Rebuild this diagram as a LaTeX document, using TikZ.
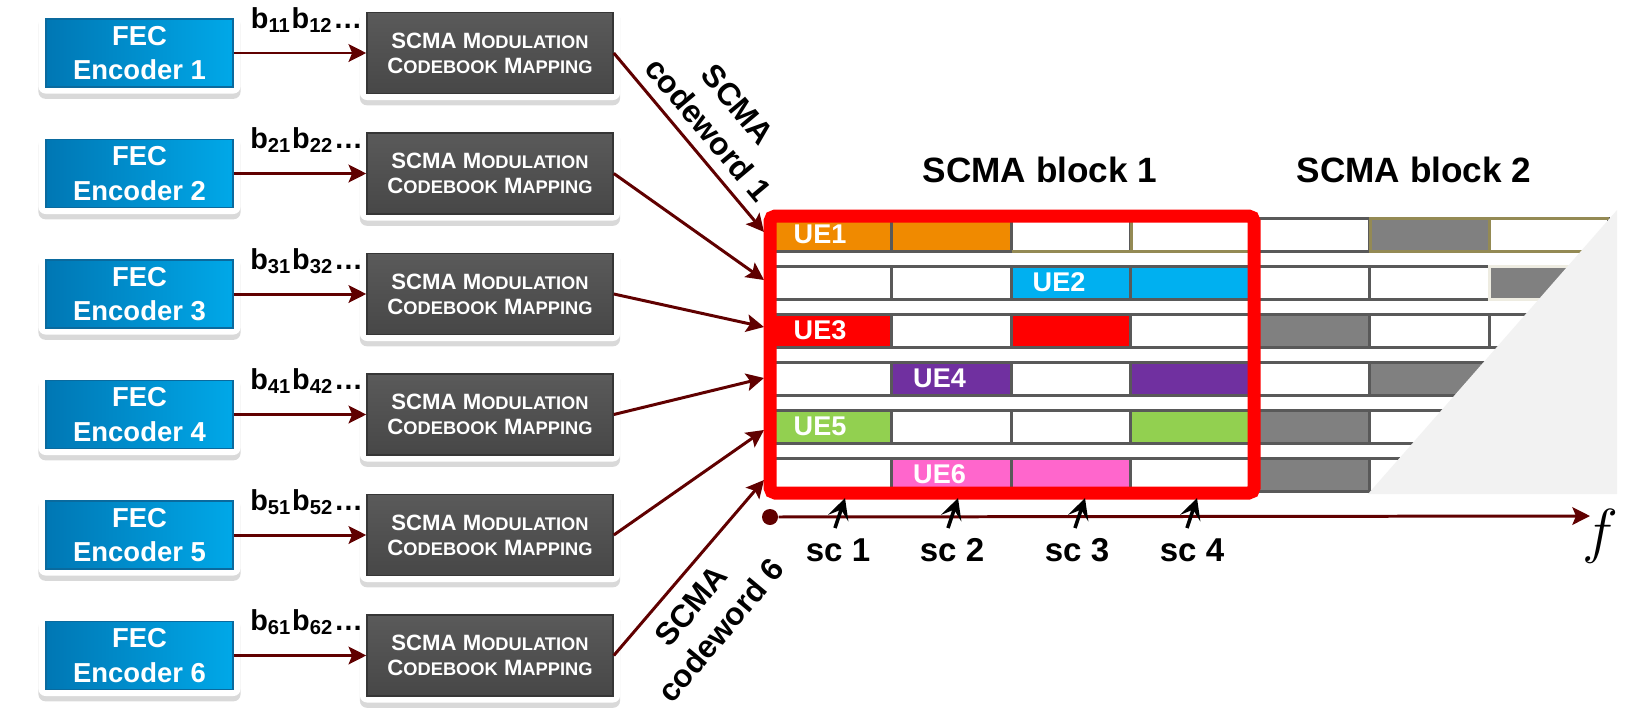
\documentclass[tikz,border=0pt]{standalone}
\usepackage{fontspec}
\setmainfont{Liberation Sans}
\usetikzlibrary{arrows.meta}
\usetikzlibrary{calc}
\usetikzlibrary{positioning}
\usetikzlibrary{shadows}

\definecolor{feclight}{HTML}{00A8E8}
\definecolor{fecdark}{HTML}{0077B4}
\definecolor{fecedge}{HTML}{0A6A9E}
\definecolor{maptop}{HTML}{5A5A5A}
\definecolor{mapbottom}{HTML}{474747}
\definecolor{mapedge}{HTML}{363636}
\definecolor{linkred}{HTML}{600000}
\definecolor{cellline}{HTML}{595959}
\definecolor{blkgray}{HTML}{808080}
\definecolor{olive}{HTML}{948A54}
\definecolor{paleedge}{HTML}{EEECE1}
\definecolor{fade}{HTML}{F2F2F2}
\definecolor{ueorange}{HTML}{F08A00}
\definecolor{uecyan}{HTML}{00B0F0}
\definecolor{uered}{HTML}{FF0000}
\definecolor{uepurple}{HTML}{7030A0}
\definecolor{uegreen}{HTML}{92D050}
\definecolor{uepink}{HTML}{FF66CC}

\newcommand{\fsc}[1]{{\fontsize{5.2}{7.1}\selectfont #1}}

\tikzset{
    frame/.style={fill=white, rounded corners=2pt, inner sep=0pt,
        drop shadow={opacity=0.3, shadow xshift=0pt, shadow yshift=-1.5pt}},
    fecframe/.style={frame, minimum width=2.02cm, minimum height=0.81cm},
    mapframe/.style={frame, minimum width=2.60cm, minimum height=0.94cm},
    fec/.style={draw=fecedge, line width=0.4pt, left color=fecdark, right color=feclight,
        minimum width=1.87cm, minimum height=0.68cm, inner sep=0pt, align=center,
        text=white, font=\fontsize{7.8}{9.7}\selectfont\bfseries},
    mapper/.style={draw=mapedge, line width=0.4pt, top color=maptop, bottom color=mapbottom,
        minimum width=2.46cm, minimum height=0.81cm, inner sep=0pt, align=center,
        text=white, font=\fontsize{6.3}{7.1}\selectfont\bfseries},
    link/.style={draw=linkred, line width=0.85pt, -{Stealth[length=5pt, width=5pt, inset=1pt]}},
    bits/.style={inner sep=0pt, font=\fontsize{8.2}{9}\selectfont\bfseries},
    cell/.style={draw=cellline, line width=0.85pt},
    uelabel/.style={anchor=west, inner sep=0pt, text=white, font=\fontsize{7.7}{8}\selectfont\bfseries},
    ueframe/.style={draw=uered, line width=3.7pt, rounded corners=1.5pt},
    title/.style={inner sep=0pt, font=\fontsize{10}{12}\selectfont\bfseries},
    codeword/.style={inner sep=0pt, align=center, font=\fontsize{9}{11}\selectfont\bfseries},
    sclabel/.style={anchor=base, inner sep=0pt, font=\fontsize{9.4}{10}\selectfont\bfseries},
    scarrow/.style={draw=black, line width=1pt, -{Stealth[length=6pt, width=6pt, inset=2.5pt]}},
    dot/.style={circle, fill=linkred, inner sep=0pt, minimum size=0.16cm},
    axis/.style={draw=linkred, line width=0.85pt, -{Stealth[length=5pt, width=5pt, inset=1pt]}},
}

\begin{document}
\begin{tikzpicture}[x=0.01cm, y=-0.01cm]
    \useasboundingbox (0,0) rectangle (1633,724);

    \foreach \i in {1,...,6} {
        \node[fecframe] (fecf\i) at (139.5, {53+120.5*(\i-1)}) {};
        \node[fec] (fec\i) at (fecf\i) {FEC\\Encoder \i};
        \node[mapframe] (mapf\i) at (490, {53+120.5*(\i-1)}) {};
        \node[mapper] (map\i) at (mapf\i) {SCMA M\fsc{ODULATION}\\C\fsc{ODEBOOK} M\fsc{APPING}};
        \draw[link] (fec\i) -- (map\i);
        \node[bits, anchor=base] (bits\i) at ($(fec\i.east)!0.55!(map\i.west) + (0,-25)$)
            {b\textsubscript{\i1}b\textsubscript{\i2}\dots};
    }

    \foreach \r/\fills in {1/{ueorange,ueorange,white,white,white,blkgray,white},
                          2/{white,white,uecyan,uecyan,white,white,blkgray},
                          3/{uered,white,uered,white,blkgray,white,white},
                          4/{white,uepurple,white,uepurple,white,blkgray,white},
                          5/{uegreen,white,white,uegreen,blkgray,white,white},
                          6/{white,uepink,uepink,white,blkgray,white,white}} {
        \foreach \f [count=\c] in \fills {
            \draw[cell, fill=\f] ({772+119.5*(\c-1)}, {218+48*(\r-1)}) rectangle +(119.5,33);
        }
    }
    \draw[cell, draw=olive] (1011.5,251) -- (1250.5,251) (1131,218) -- (1131,251);
    \draw[cell, draw=olive, fill=blkgray] (1370,218) rectangle (1489.5,251);
    \draw[cell, draw=olive] (1489.5,218) -- (1609,218) (1489.5,251) -- (1609,251);
    \draw[cell, draw=paleedge, fill=blkgray] (1489.5,266) rectangle (1609,299);
    \fill[fade] (1368,494) -- (1617,210) -- (1617,494) -- cycle;

    \foreach \u/\c in {1/1, 2/3, 3/1, 4/2, 5/1, 6/2}
        \node[uelabel] (ue\u) at ({793+119.5*(\c-1)}, {234.5+48*(\u-1)}) {UE\u};

    \foreach \i/\ty in {1/232, 2/280, 3/327, 4/378, 5/430, 6/480} {
        \coordinate (in\i) at (764,\ty);
        \draw[link] (map\i.east) -- (in\i);
    }

    \draw[ueframe] (770,216) rectangle (1254,493);

    \node[title] (block1) at (1040,170) {SCMA block 1};
    \node[title] (block2) at (1414,170) {SCMA block 2};

    \node[codeword, rotate=-50] (cw1) at (723,117) {SCMA\\codeword 1};
    \node[codeword, rotate=50] (cw6) at (706,618) {SCMA\\codeword 6};

    \node[dot] (origin) at (770,517) {};
    \coordinate (fend) at (1590,516);
    \draw[axis] (origin) -- (fend);
    \node[font=\fontsize{19}{19}\selectfont] (faxis) at (1600,536) {$f$};

    \foreach \k/\tx/\lx in {1/845/838, 2/958/952, 3/1085/1077, 4/1197/1192} {
        \node[sclabel] (sc\k) at (\lx,561) {sc \k};
        \coordinate (tail\k) at ({\tx-10},528);
        \coordinate (tip\k) at (\tx,498);
        \draw[scarrow] (tail\k) -- (tip\k);
    }
\end{tikzpicture}
\end{document}
